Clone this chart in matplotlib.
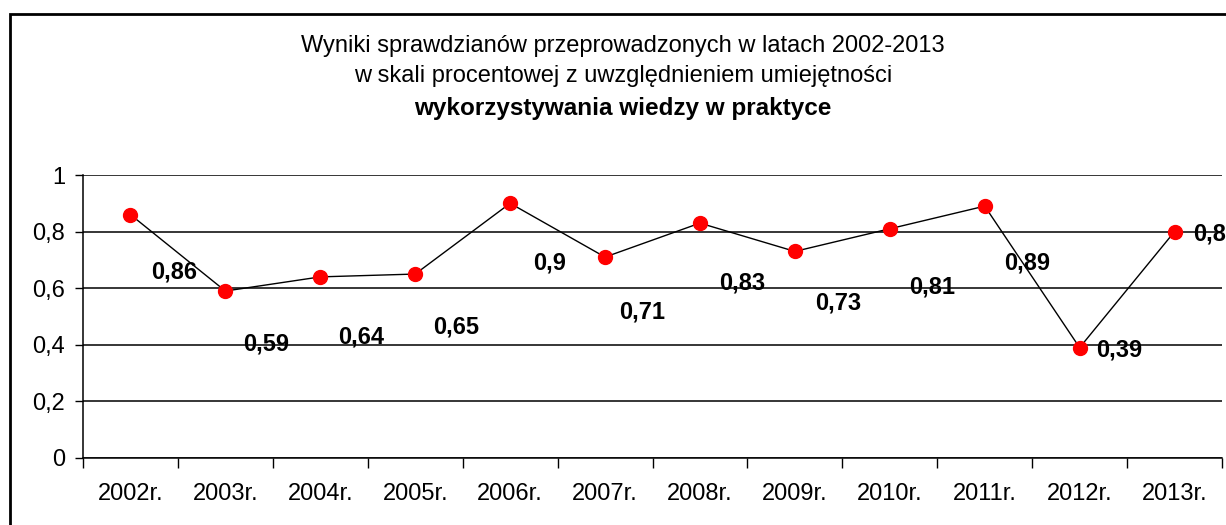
import matplotlib
matplotlib.use("Agg")
import matplotlib.pyplot as plt
from matplotlib.patches import Rectangle
import numpy as np

plt.rcParams['font.family'] = ['Liberation Sans', 'DejaVu Sans']

categories = ["2002r.", "2003r.", "2004r.", "2005r.", "2006r.", "2007r.",
              "2008r.", "2009r.", "2010r.", "2011r.", "2012r.", "2013r."]
values = [0.86, 0.59, 0.64, 0.65, 0.90, 0.71, 0.83, 0.73, 0.81, 0.89, 0.39, 0.80]
value_labels = ["0,86", "0,59", "0,64", "0,65", "0,9", "0,71",
                "0,83", "0,73", "0,81", "0,89", "0,39", "0,8"]
y_ticks = [0, 0.2, 0.4, 0.6, 0.8, 1.0]
y_tick_labels = ["0", "0,2", "0,4", "0,6", "0,8", "1"]
title_lines = ["Wyniki sprawdzianów przeprowadzonych w latach 2002-2013",
               "w skali procentowej z uwzględnieniem umiejętności",
               "wykorzystywania wiedzy w praktyce"]

# label offsets in pixels (style, not data)
label_offsets = [(44, -57), (41, -53), (41, -60), (41, -53), (39, -60), (37, -55),
                 (42, -60), (43, -52), (42, -58), (42, -57), (40, -2), (35, -2)]

W, H = 1226, 525
fig = plt.figure(figsize=(W / 100, H / 100), dpi=100)
fig.patch.set_facecolor('white')

# chart frame
fig.add_artist(Rectangle((10 / W, -0.2), 1.2, 1.2 - 14 / H,
                         transform=fig.transFigure, fill=False,
                         edgecolor='black', linewidth=2.0))

left, right, top, bottom = 83, 1222, 175, 458
ax = fig.add_axes([left / W, 1 - bottom / H, (right - left) / W, (bottom - top) / H])

x = np.arange(len(categories))
ax.plot(x, values, color='black', linewidth=1.0, zorder=3, clip_on=False)
ax.plot(x, values, linestyle='none', marker='o', markersize=10,
        markerfacecolor='#ff0000', markeredgecolor='#ff0000', zorder=4, clip_on=False)

for xi, v, lab, off in zip(x, values, value_labels, label_offsets):
    ax.annotate(lab, (xi, v), xytext=off, textcoords='offset pixels',
                ha='center', va='center', fontsize=17, fontweight='bold',
                color='black', zorder=5, annotation_clip=False)

ax.set_xlim(-0.5, len(categories) - 0.5)
ax.set_ylim(0, 1)

ax.set_yticks(y_ticks)
ax.set_yticklabels(y_tick_labels, fontsize=17)
ax.tick_params(axis='y', direction='out', length=6, width=1, pad=7)

ax.set_xticks(np.arange(-0.5, len(categories), 1.0))
ax.set_xticklabels([])
ax.tick_params(axis='x', which='major', direction='out', length=7, width=1)
ax.set_xticks(x, minor=True)
ax.set_xticklabels(categories, minor=True, fontsize=17)
ax.tick_params(axis='x', which='minor', length=0, pad=18)

ax.grid(axis='y', color='black', linewidth=1.1)
ax.set_axisbelow(True)
for s in ['top', 'right']:
    ax.spines[s].set_visible(False)
for s in ['left', 'bottom']:
    ax.spines[s].set_linewidth(1.1)

# title
fig.text(623 / W, 1 - 46 / H, title_lines[0], ha='center', va='center', fontsize=17)
fig.text(623 / W, 1 - 76 / H, title_lines[1], ha='center', va='center', fontsize=17)
fig.text(623 / W, 1 - 108 / H, title_lines[2], ha='center', va='center', fontsize=17.5,
         fontweight='bold')

fig.savefig("out.png", dpi=100)
